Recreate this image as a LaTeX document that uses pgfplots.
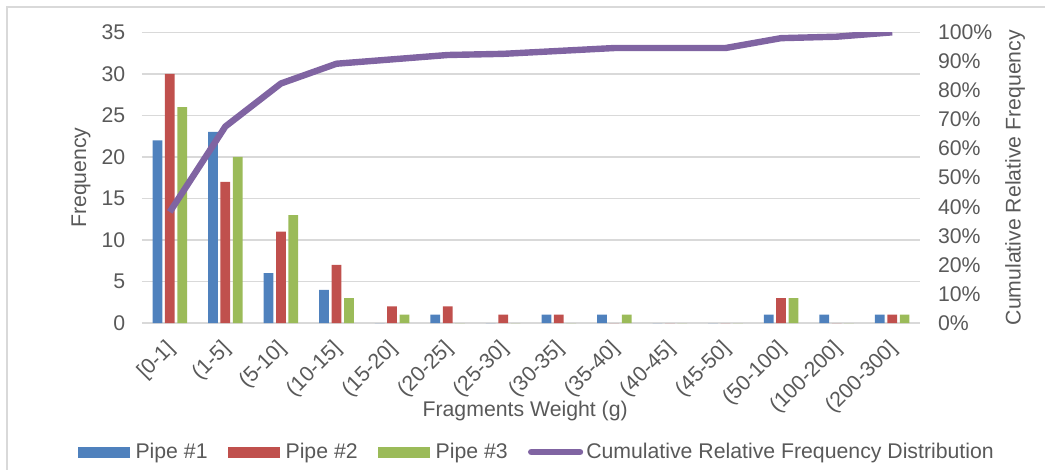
\documentclass[border=0pt]{standalone}
\usepackage{pgfplots}
\pgfplotsset{compat=1.18}
\usepackage{fontspec}
\setmainfont{Liberation Sans}

\definecolor{cblue}{HTML}{4F81BD}
\definecolor{cred}{HTML}{C0504D}
\definecolor{cgreen}{HTML}{9BBB59}
\definecolor{cpurple}{HTML}{8064A2}
\definecolor{cgrid}{HTML}{D9D9D9}
\definecolor{txt}{HTML}{595959}

\pgfplotsset{
  barleg/.style={legend image code/.code={\fill[##1] (0bp,-4.1bp) rectangle (39bp,4.1bp); \path (41.5bp,0bp);}},
  base/.style={
    width=583.5bp, height=218bp, scale only axis,
    at={(0,0)}, anchor=south west,
    xmin=-0.5, xmax=13.5,
    axis line style={draw=none},
    major tick length=0pt,
    tick label style={color=txt},
    label style={color=txt},
    /pgf/number format/assume math mode=true,
  }
}

\begin{document}
\begin{tikzpicture}[font=\fontsize{16}{19}\selectfont]
\useasboundingbox (-106.5bp,-110.25bp) rectangle (677.25bp,242.25bp);
\draw[cgrid, line width=1.1bp] (-101.25bp,-130bp) -- (-101.25bp,237bp) -- (700bp,237bp);

\begin{axis}[base,
    ybar=2bp, bar width=7.3bp,
    ymin=0, ymax=35, ytick={0,5,...,35},
    ymajorgrids, xmajorgrids=false,
    grid style={cgrid, line width=1.1bp},
    yticklabel style={xshift=-9bp},
    xtick={0,...,13},
    xticklabels={{[0-1]},{(1-5]},{(5-10]},{(10-15]},{(15-20]},{(20-25]},{(25-30]},{(30-35]},{(35-40]},{(40-45]},{(45-50]},{(50-100]},{(100-200]},{(200-300]}},
    xticklabel style={xshift=-4bp, yshift=-11.5bp, rotate=45, anchor=north east, inner sep=0pt},
    ylabel={Frequency},
    ylabel style={at={(axis description cs:-0.0784,0.5)}, anchor=center},
    xlabel={Fragments Weight (g)},
    xlabel style={at={(axis description cs:0.4925,-0.3028)}, anchor=center},
    legend columns=-1,
    legend style={at={(axis description cs:0.5077,-0.444)}, anchor=center,
      draw=none, fill=none, text=txt,
      /tikz/every even column/.append style={column sep=13bp}},
  ]
\addplot[barleg, draw=none, fill=cblue] coordinates {
(0,22) (1,23) (2,6) (3,4) (4,0) (5,1) (6,0) (7,1) (8,1) (9,0) (10,0) (11,1) (12,1) (13,1)};
\addplot[barleg, draw=none, fill=cred] coordinates {
(0,30) (1,17) (2,11) (3,7) (4,2) (5,2) (6,1) (7,1) (8,0) (9,0) (10,0) (11,3) (12,0) (13,1)};
\addplot[barleg, draw=none, fill=cgreen] coordinates {
(0,26) (1,20) (2,13) (3,3) (4,1) (5,0) (6,0) (7,0) (8,1) (9,0) (10,0) (11,3) (12,0) (13,1)};
\addlegendimage{legend image code/.code={\draw[cpurple, line width=4.8bp, line cap=round] (2.4bp,0bp) -- (39bp,0bp); \path (0bp,0bp) (41.5bp,0bp);}}
\legend{Pipe \#1, Pipe \#2, Pipe \#3, Cumulative Relative Frequency Distribution}
\end{axis}

\begin{axis}[base,
    axis x line=none,
    axis y line*=right,
    ymin=0, ymax=100, ytick={0,10,...,100},
    yticklabel={\pgfmathprintnumber{\tick}\%},
    yticklabel style={xshift=10bp},
    ylabel={Cumulative Relative Frequency},
    ylabel style={at={(axis description cs:1.1221,0.5)}, anchor=center},
  ]
\addplot[cpurple, line width=4.8bp, line join=round] coordinates {
(0,38.2) (1,67.6) (2,82.4) (3,89.2) (4,90.7) (5,92.2) (6,92.6) (7,93.6) (8,94.6) (9,94.6) (10,94.6) (11,98.0) (12,98.5) (13,100)};
\end{axis}
\end{tikzpicture}
\end{document}
